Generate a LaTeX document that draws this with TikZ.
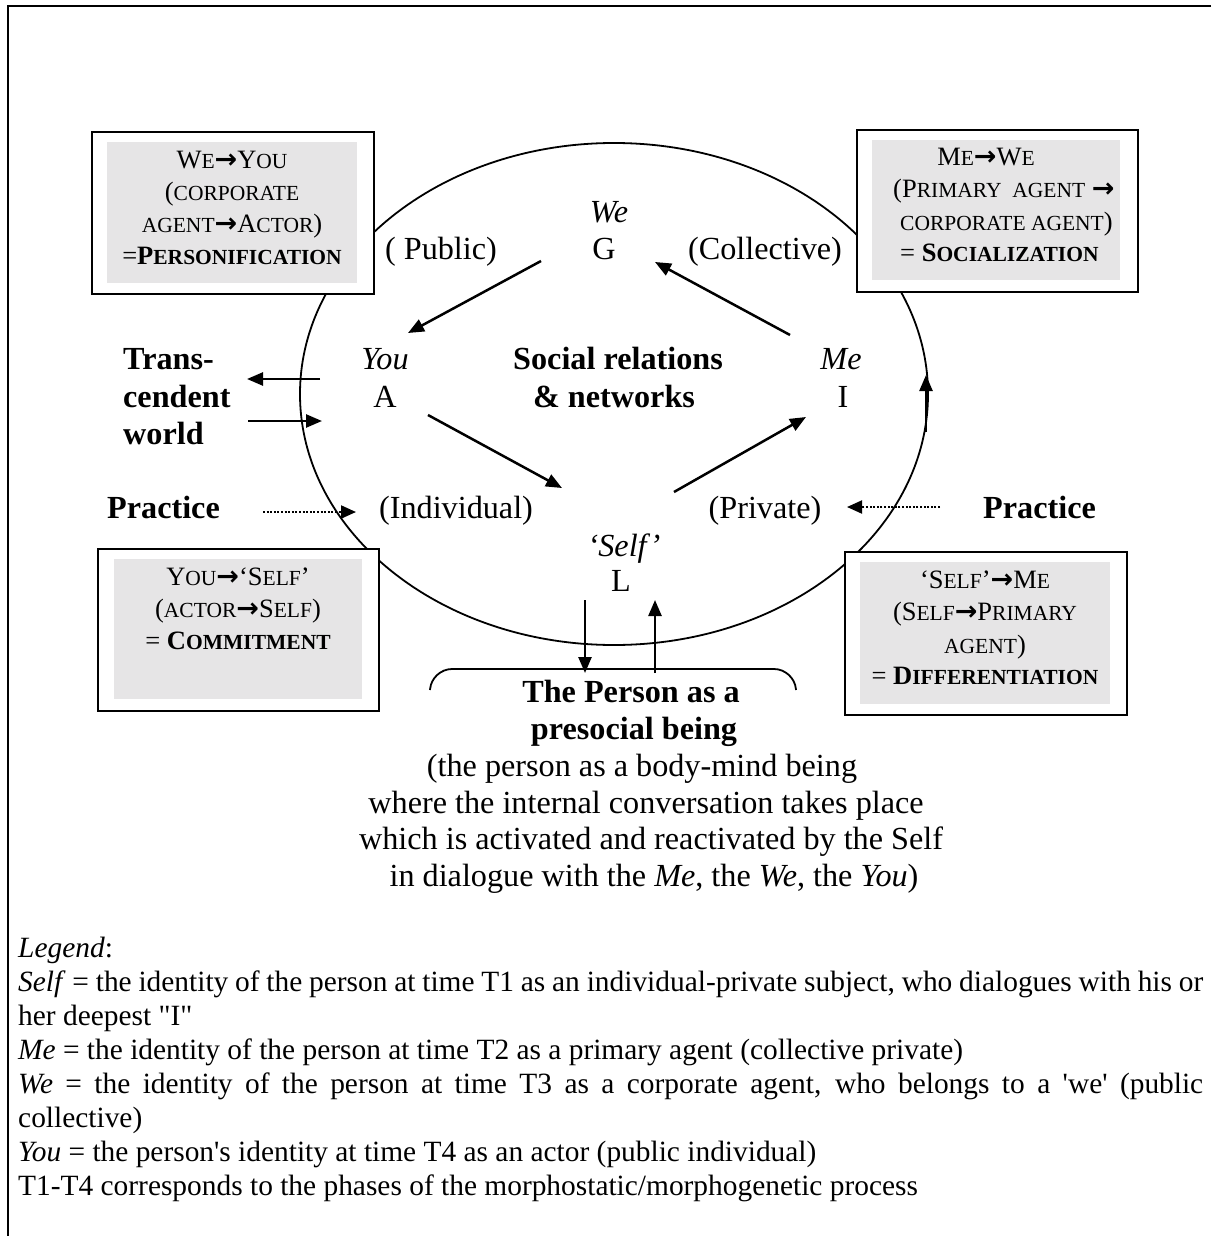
\documentclass[tikz,border=0pt]{standalone}
\usepackage{fontspec}
\setmainfont{Liberation Serif}
\newfontfamily\dejavu{DejaVu Sans}
\usetikzlibrary{arrows.meta,shapes.geometric}
\definecolor{boxgrey}{RGB}{230,229,230}
\newcommand\sm[1]{{\fontsize{21.5}{22}\selectfont #1}}
\newcommand\arr{{\dejavu\bfseries\fontsize{27}{27}\selectfont →}}
\tikzset{
  lbl/.style={anchor=base, inner sep=0pt, font=\fontsize{32.2}{37}\selectfont},
  lblb/.style={anchor=base, inner sep=0pt, font=\fontsize{32.2}{37}\selectfont\bfseries},
  lblw/.style={anchor=base west, inner sep=0pt, font=\fontsize{32.2}{37}\selectfont\bfseries},
  boxtxt/.style={anchor=base, inner sep=0pt, font=\fontsize{26.5}{30}\selectfont},
  boxtxtw/.style={anchor=base west, inner sep=0pt, font=\fontsize{26.5}{30}\selectfont},
  legtxt/.style={anchor=base west, inner sep=0pt, font=\fontsize{29.4}{34}\selectfont},
  outerbox/.style={draw, line width=1.8pt, fill=white, anchor=north west, inner sep=0pt},
  innerbox/.style={fill=boxgrey, anchor=north west, inner sep=0pt},
  arrowline/.style={line width=2.5pt, -{Triangle[length=16pt,width=13pt]}},
  dotarrow/.style={line width=2pt, dash pattern=on 2pt off 1.6pt, -{Triangle[length=15pt,width=13pt]}},
  frame/.style={line width=1.3pt}
}
\begin{document}
\begin{tikzpicture}[x=1pt, y=-1pt]
\useasboundingbox (0,0) rectangle (1211,1236);
% outer frame
\coordinate (fa) at (1211,6);
\coordinate (fb) at (8,6);
\coordinate (fc) at (8,1236);
\draw[frame] (fa) -- (fb) -- (fc);

% ellipse
\node[ellipse, draw, line width=1.8pt, minimum width=628pt, minimum height=502pt, inner sep=0pt] (circ) at (614,394) {};

% boxes
\node[outerbox, minimum width=282pt, minimum height=162pt] (b1) at (91,131) {};
\node[innerbox, minimum width=250pt, minimum height=141pt] (g1) at (107,142) {};
\node[outerbox, minimum width=281pt, minimum height=162pt] (b2) at (856,129) {};
\node[innerbox, minimum width=248pt, minimum height=140pt] (g2) at (872,140) {};
\node[outerbox, minimum width=281pt, minimum height=162pt] (b3) at (97,548) {};
\node[innerbox, minimum width=248pt, minimum height=140pt] (g3) at (114,559) {};
\node[outerbox, minimum width=282pt, minimum height=163pt] (b4) at (844,551) {};
\node[innerbox, minimum width=250pt, minimum height=142pt] (g4) at (860,562) {};

% box texts
\node[boxtxt] (t1a) at (232,168) {W\sm{E}\arr Y\sm{OU}};
\node[boxtxt] (t1b) at (232,200) {(\sm{CORPORATE}};
\node[boxtxt] (t1c) at (232,232) {\sm{AGENT}\arr A\sm{CTOR})};
\node[boxtxt] (t1d) at (232,264) {=\textbf{P\sm{ERSONIFICATION}}};

\node[boxtxt] (t2a) at (986,165) {M\sm{E}\arr W\sm{E}};
\node[boxtxtw] (t2b) at (893,197) {(P\sm{RIMARY\ \ AGENT} \arr};
\node[boxtxtw] (t2c) at (900,230) {\sm{CORPORATE AGENT})};
\node[boxtxtw] (t2d) at (900,261) {= \textbf{S\sm{OCIALIZATION}}};

\node[boxtxt] (t3a) at (238,585) {Y\sm{OU}\arr‘S\sm{ELF}’};
\node[boxtxt] (t3b) at (238,617) {(\sm{ACTOR}\arr S\sm{ELF})};
\node[boxtxt] (t3c) at (238,649) {= \textbf{C\sm{OMMITMENT}}};

\node[boxtxt] (t4a) at (985,588) {‘S\sm{ELF}’\arr M\sm{E}};
\node[boxtxt] (t4b) at (985,620) {(S\sm{ELF}\arr P\sm{RIMARY}};
\node[boxtxt] (t4c) at (985,653) {\sm{AGENT})};
\node[boxtxt] (t4d) at (985,684) {= \textbf{D\sm{IFFERENTIATION}}};

% labels inside ellipse
\node[lbl] (we) at (609,222) {\itshape We};
\node[lbl] (G) at (604,259) {G};
\node[lbl] (public) at (441,259) {( Public)};
\node[lbl] (collective) at (765,259) {(Collective)};
\node[lbl] (you) at (385,369) {\itshape You};
\node[lbl] (A) at (385,407) {A};
\node[lblb] (soc1) at (618,369) {Social relations};
\node[lblb] (soc2) at (614,407) {\& networks};
\node[lbl] (me) at (841,369) {\itshape Me};
\node[lbl] (I) at (843,407) {I};
\node[lbl] (indiv) at (456,518) {(Individual)};
\node[lbl] (priv) at (765,518) {(Private)};
\node[lbl] (self) at (624,556) {\itshape ‘Self’};
\node[lbl] (L) at (621,591) {L};

% outside labels
\node[lblw] (tr1) at (123,369) {Trans-};
\node[lblw] (tr2) at (123,407) {cendent};
\node[lblw] (tr3) at (123,444) {world};
\node[lblw] (prL) at (107,518) {Practice};
\node[lblw] (prR) at (983,518) {Practice};

% bottom text
\node[lblb] (p1) at (631,702) {The Person as a};
\node[lblb] (p2) at (634,739) {presocial being};
\node[lbl] (p3) at (642,776) {(the person as a body-mind being};
\node[lbl] (p4) at (646,813) {where the internal conversation takes place};
\node[lbl] (p5) at (651,849) {which is activated and reactivated by the Self};
\node[lbl] (p6) at (654,886) {in dialogue with the \textit{Me}, the \textit{We}, the \textit{You})};

% brace
\coordinate (br1) at (430,690);
\coordinate (br2) at (432,669);
\coordinate (br3) at (794,669);
\coordinate (br4) at (796,690);
\draw[line width=1.8pt, rounded corners=20pt] (br1) -- (br2) -- (br3) -- (br4);

% arrows (coordinates)
\coordinate (a1s) at (541,261); \coordinate (a1e) at (408,333);
\coordinate (a2s) at (790,335); \coordinate (a2e) at (655,262);
\coordinate (a3s) at (428,415); \coordinate (a3e) at (562,488);
\coordinate (a4s) at (674,492); \coordinate (a4e) at (806,417);
\coordinate (t1s) at (320,379); \coordinate (t1e) at (247,379);
\coordinate (t2s) at (248,421); \coordinate (t2e) at (322,421);
\coordinate (rvs) at (926,432); \coordinate (rve) at (926,375);
\coordinate (pls) at (263,512); \coordinate (ple) at (356,512);
\coordinate (prs) at (940,507); \coordinate (pre) at (847,507);
\coordinate (bds) at (585,600); \coordinate (bde) at (585,673);
\coordinate (bus) at (655,673); \coordinate (bue) at (655,600);

\draw[arrowline] (a1s) -- (a1e);
\draw[arrowline] (a2s) -- (a2e);
\draw[arrowline] (a3s) -- (a3e);
\draw[arrowline] (a4s) -- (a4e);
\draw[arrowline] (t1s) -- (t1e);
\draw[arrowline] (t2s) -- (t2e);
\draw[arrowline] (rvs) -- (rve);
\draw[dotarrow] (pls) -- (ple);
\draw[dotarrow] (prs) -- (pre);
\draw[arrowline] (bds) -- (bde);
\draw[arrowline] (bus) -- (bue);

% legend
\node[legtxt] (l0) at (18,957) {\textit{Legend}:};
\node[legtxt] (l1) at (18,991) {\makebox[1185pt][s]{\textit{Self} = the identity of the person at time T1 as an individual-private subject, who dialogues with his or}};
\node[legtxt] (l2) at (18,1025) {her deepest \textquotedbl I\textquotedbl};
\node[legtxt] (l3) at (18,1059) {\textit{Me} = the identity of the person at time T2 as a primary agent (collective private)};
\node[legtxt] (l4) at (18,1093) {\makebox[1185pt][s]{\textit{We} = the identity of the person at time T3 as a corporate agent, who belongs to a \textquotesingle we\textquotesingle\ (public}};
\node[legtxt] (l5) at (18,1127) {collective)};
\node[legtxt] (l6) at (18,1161) {\textit{You} = the person\textquotesingle s identity at time T4 as an actor (public individual)};
\node[legtxt] (l7) at (18,1195) {T1-T4 corresponds to the phases of the morphostatic/morphogenetic process};
\end{tikzpicture}
\end{document}
